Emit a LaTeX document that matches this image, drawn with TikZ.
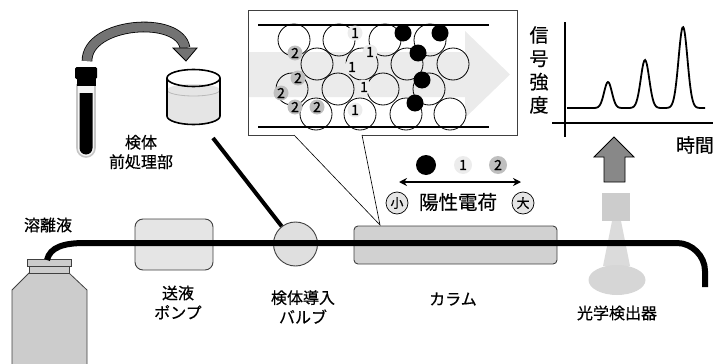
\documentclass[tikz,border=0pt]{standalone}
\usepackage{fontspec}
\setmainfont{Noto Sans CJK JP}[FakeBold=0.5]
\newfontfamily\digitfont{Noto Sans CJK JP}[FakeBold=1.2]
\usetikzlibrary{arrows.meta,shapes.geometric}
\definecolor{lightfill}{gray}{0.90}
\definecolor{midfill}{gray}{0.80}
\definecolor{darkfill}{gray}{0.45}
\definecolor{flowfill}{gray}{0.92}
\definecolor{edge}{gray}{0.25}
\begin{document}
\begin{tikzpicture}[x=1pt,y=-1pt,
  lbl/.style={inner sep=0pt, align=center, font=\fontsize{16}{19.5}\selectfont},
  biglbl/.style={inner sep=0pt, align=center, font=\fontsize{19}{23.3}\selectfont},
  grain/.style={draw=black, line width=0.8pt},
  badgeone/.style={circle, fill=gray!15, inner sep=0pt, minimum size=15pt,
    font=\digitfont\fontsize{14}{14}\selectfont},
  badgetwo/.style={circle, fill=gray!50, inner sep=0pt, minimum size=15pt,
    font=\digitfont\fontsize{14}{14}\selectfont},
  blackdot/.style={circle, fill=black, inner sep=0pt, minimum size=17pt},
  sizemark/.style={circle, draw=black, line width=0.7pt, fill=gray!20, inner sep=0pt,
    minimum size=22pt, font=\fontsize{13}{13}\selectfont},
  pipe/.style={line width=6pt, black},
  partbox/.style={draw=edge, line width=0.9pt},
]
\useasboundingbox (0,0) rectangle (715,364);

% ---------- sample tube ----------
\draw[gray!45, line width=1.6pt, fill=gray!8] (77,85) -- (77,148)
  arc[start angle=180, end angle=0, radius=9] -- (95,85) -- cycle;
\fill[black] (79.5,93) -- (79.5,148) arc[start angle=180, end angle=0, radius=6.5] -- (92.5,93) -- cycle;
\fill[black, rounded corners=1.5pt] (75,67) rectangle (97,79);
\fill[black] (76.5,78) rectangle (95.5,86);
\coordinate (tubetop) at (87,61);

% transfer arrow
\draw[line width=0.8pt, double=darkfill, double distance=9pt]
  (tubetop) .. controls (87,22) and (180,15) .. (185,48);
\coordinate (beakerin) at (186,61);
\draw[line width=0.8pt, fill=darkfill, line join=miter] (173,48) -- (197,48) -- (beakerin) -- cycle;

% ---------- beaker ----------
\fill[gray!20] (167,90) -- (167,116) arc[start angle=180, end angle=0, x radius=26.5, y radius=8.5]
  -- (220,90) arc[start angle=0, end angle=-180, x radius=26.5, y radius=6] -- cycle;
\draw[gray!55, line width=0.8pt] (167,90) arc[start angle=180, end angle=0, x radius=26.5, y radius=6];
\draw[black, line width=1.6pt] (193.5,78) ellipse[x radius=26.5, y radius=8.5];
\draw[black, line width=1.6pt] (167,78) -- (167,116)
  arc[start angle=180, end angle=0, x radius=26.5, y radius=8.5] -- (220,78);
\coordinate (beakerout) at (213,138);
\node[lbl] (prep) at (141,152) {検体\\前処理部};

% ---------- inset: column interior ----------
\fill[flowfill] (249,52) -- (465,52) -- (465,31) -- (510,74.5) -- (465,118) -- (465,97) -- (249,97) -- cycle;
\draw[line width=2.5pt] (258,25) -- (489,25);
\draw[line width=2.5pt] (258,127) -- (489,127);
\foreach \px/\py in {294/40,339/40,385/40,430/40,
                     317/64,362/64,407/64,453/64,
                     292/89,338/89,383/89,429/89,
                     316/114,360/114,406/114,450/114}
  \draw[grain] (\px,\py) circle[radius=16];
\foreach \px/\py [count=\i] in {295/53,298/78,281/93,295/107,317/107}
  \node[badgetwo] (two\i) at (\px,\py) {2};
\foreach \px/\py [count=\i] in {355/33,370/52,352/67,364/87,355/110}
  \node[badgeone] (one\i) at (\px,\py) {1};
\foreach \px/\py [count=\i] in {403/33,440/33,418/53,422/80,415/103}
  \node[blackdot] (dot\i) at (\px,\py) {};

% inset frame with callout
\coordinate (calloutL) at (294,135);
\coordinate (calloutR) at (362,135);
\coordinate (callouttip) at (380,225);
\draw[edge, line width=1pt] (calloutL) -- (248,135) -- (248,10) -- (517,10) -- (517,135) -- (calloutR);
\draw[line width=0.6pt] (calloutL) -- (callouttip) -- (calloutR);

% ---------- charge legend ----------
\node[blackdot, minimum size=20pt] (legdot) at (426,165) {};
\node[badgeone, minimum size=18pt] (legone) at (463,165) {1};
\node[badgetwo, minimum size=18pt] (legtwo) at (498,165) {2};
\coordinate (chargeL) at (399,182);
\coordinate (chargeR) at (521,182);
\draw[line width=1.6pt, {Stealth[length=8pt,width=8pt]}-{Stealth[length=8pt,width=8pt]}] (chargeL) -- (chargeR);
\node[sizemark] (small) at (397,203) {小};
\node[biglbl, font=\fontsize{19.5}{20}\selectfont] (charge) at (458,202) {陽性電荷};
\node[sizemark] (large) at (523,203) {大};

% ---------- chromatogram ----------
\draw[line width=2pt] (565,22) -- (565,137);
\draw[line width=2pt] (552,123) -- (713,123);
\draw[line width=1.8pt, smooth, samples=160, domain=567:705]
  plot (\x, {108 - 26*exp(-((\x-608)/5.5)^2) - 48*exp(-((\x-645)/6)^2) - 81*exp(-((\x-683)/6.3)^2)});
\node[biglbl] (signal) at (539,70) {信\\号\\強\\度};
\node[biglbl] (time) at (695,145) {時間};

% detector output arrow
\node[inner sep=0pt] (chartin) at (614,137) {};
\draw[line width=0.8pt, fill=darkfill!85!white, line join=miter]
  (604,182) -- (604,157) -- (594,157) -- (chartin.center) -- (634,157) -- (625,157) -- (625,182) -- cycle;

% ---------- solvent bottle ----------
\draw[edge, line width=0.8pt, fill=midfill] (29,273) -- (12,290) -- (12,366) -- (87,366) -- (87,290) -- (69,273) -- cycle;
\draw[edge, line width=0.8pt, fill=midfill] (29,266) rectangle (69,273);
\draw[edge, line width=0.8pt, fill=midfill] (27,259.5) rectangle (71,266);
\coordinate (bottlecap) at (47,260);
\node[lbl] (eluent) at (48,225) {溶離液};

% ---------- pump, valve, column, detector ----------
\node[partbox, fill=lightfill, rounded corners=8pt, minimum width=78pt, minimum height=51pt] (pump) at (174,244.5) {};
\node[lbl] (pumplbl) at (178,302.5) {送液\\ポンプ};
\node[partbox, circle, fill=gray!25, minimum size=44pt, inner sep=0pt] (valve) at (295.5,244) {};
\node[lbl] (valvelbl) at (303,307) {検体導入\\バルブ};
\draw[line width=4pt] (beakerout) -- (valve);
\node[partbox, fill=midfill!90!white, rounded corners=4pt, minimum width=203pt, minimum height=38pt] (column) at (455.5,245) {};
\node[lbl] (columnlbl) at (453,299) {カラム};

\node[fill=midfill, minimum size=28pt, inner sep=0pt] (lamp) at (616,207) {};
\fill[gray!28] (612,221) -- (621,221) -- (630,266) -- (603,266) -- cycle;
\node[ellipse, fill=gray!32, minimum width=57pt, minimum height=30pt, inner sep=0pt] (sensor) at (617,280) {};
\node[lbl] (detlbl) at (617,313) {光学検出器};

% ---------- flow line ----------
\coordinate (bend) at (85,243);
\coordinate (turn) at (677,243);
\coordinate (drain) at (705,287);
\draw[pipe] (bottlecap) .. controls (50,247) and (64,243) .. (bend) -- (turn)
  .. controls (692,243) and (705,256) .. (705,271) -- (drain);
\end{tikzpicture}
\end{document}
